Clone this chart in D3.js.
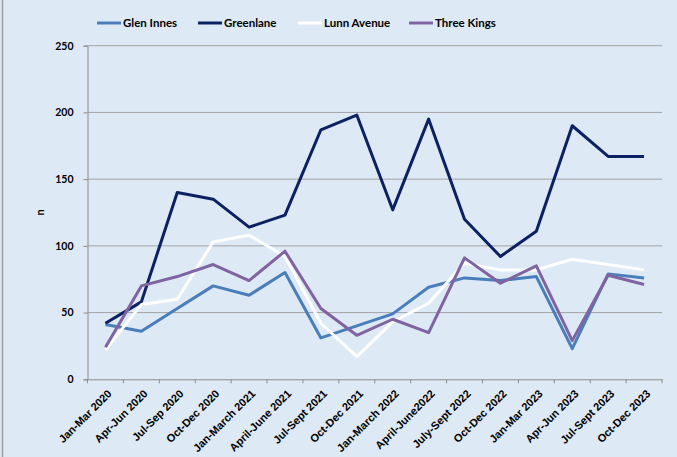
<!DOCTYPE html>
<html>
<head>
<meta charset="utf-8">
<script src="https://cdn.jsdelivr.net/npm/d3@7"></script>
<style>
    body { margin: 0; background: #dde9f5; }
    svg { display: block; font-family: Lato, "Open Sans", sans-serif; font-weight: bold; }
</style>
</head>
<body>
<div id="chart"></div>
<script>
// Chart data
const quarters = [
    "Jan-Mar 2020", "Apr-Jun 2020", "Jul-Sep 2020", "Oct-Dec 2020",
    "Jan-March 2021", "April-June 2021", "Jul-Sept 2021", "Oct-Dec 2021",
    "Jan-March 2022", "April-June2022", "July-Sept 2022", "Oct-Dec 2022",
    "Jan-Mar 2023", "Apr-Jun 2023", "Jul-Sept 2023", "Oct-Dec 2023"
];
const glenInnes  = [41, 36, 53, 70, 63, 80, 31, 40, 49, 69, 76, 74, 77, 23, 79, 76];
const greenlane  = [42, 58, 140, 135, 114, 123, 187, 198, 127, 195, 120, 92, 111, 190, 167, 167];
const lunnAvenue = [22, 56, 60, 103, 108, 92, 42, 17, 43, 57, 87, 82, 82, 90, 86, 82];
const threeKings = [24, 70, 77, 86, 74, 96, 53, 33, 45, 35, 91, 72, 85, 29, 78, 71];
const yTicks = [0, 50, 100, 150, 200, 250];

const series = [
    { name: "Glen Innes", values: glenInnes, color: "#4a7ebb" },
    { name: "Greenlane", values: greenlane, color: "#0c2161" },
    { name: "Lunn Avenue", values: lunnAvenue, color: "#ffffff" },
    { name: "Three Kings", values: threeKings, color: "#8064a2" }
];

const width = 677, height = 457;
const margin = { left: 87.5, right: 15, top: 45.7, bottom: 77.7 };

const svg = d3.select("#chart").append("svg")
    .attr("width", width)
    .attr("height", height);

svg.append("rect")
    .attr("width", width).attr("height", height)
    .attr("fill", "#dde9f5");

// left frame edge
svg.append("line")
    .attr("x1", 2.5).attr("x2", 2.5).attr("y1", 0).attr("y2", height)
    .attr("stroke", "#a0a0a0").attr("stroke-width", 1.5);

// Scales
const x = d3.scaleBand()
    .domain(quarters)
    .range([margin.left, width - margin.right]);
const y = d3.scaleLinear()
    .domain([0, 250])
    .range([height - margin.bottom, margin.top]);

// Gridlines
svg.append("g")
    .selectAll("line")
    .data(yTicks.filter(d => d > 0))
    .enter().append("line")
        .attr("x1", margin.left)
        .attr("x2", width - margin.right)
        .attr("y1", d => y(d))
        .attr("y2", d => y(d))
        .attr("stroke", "#a3a3a3")
        .attr("stroke-width", 1);

// Y axis
const yAxis = svg.append("g")
    .attr("transform", `translate(${margin.left},0)`)
    .call(d3.axisLeft(y).tickValues(yTicks).tickSize(4).tickPadding(10));
yAxis.select(".domain").attr("stroke", "#8c8c8c");
yAxis.selectAll(".tick line").attr("stroke", "#8c8c8c");
yAxis.selectAll("text")
    .attr("fill", "#000")
    .style("font-size", "10.5px")
    .style("font-weight", "bold")
    .style("font-family", "Lato, sans-serif");

// X axis
const xAxis = svg.append("g")
    .attr("transform", `translate(0,${height - margin.bottom})`)
    .call(d3.axisBottom(x).tickSize(0).tickFormat(""));
xAxis.select(".domain").attr("stroke", "#8c8c8c");

// category boundary ticks
const bounds = quarters.map(q => x(q)).concat([x.range()[1]]);
xAxis.selectAll(".bound")
    .data(bounds)
    .enter().append("line")
        .attr("x1", d => d).attr("x2", d => d)
        .attr("y1", 0).attr("y2", 4)
        .attr("stroke", "#8c8c8c");

// rotated labels
xAxis.selectAll(".lbl")
    .data(quarters)
    .enter().append("text")
        .attr("text-anchor", "end")
        .attr("transform", d => `translate(${x(d) + x.bandwidth() / 2 + 7},${15}) rotate(-45)`)
        .attr("fill", "#000")
        .style("font-size", "11px")
        .text(d => d);

// Y axis title
svg.append("text")
    .attr("transform", `translate(44,${y(125)}) rotate(-90)`)
    .attr("text-anchor", "middle")
    .style("font-size", "11px")
    .text("n");

// Lines
const line = d3.line()
    .x((d, i) => x(quarters[i]) + x.bandwidth() / 2)
    .y(d => y(d));

svg.append("g")
    .selectAll("path")
    .data(series)
    .enter().append("path")
        .attr("d", s => line(s.values))
        .attr("fill", "none")
        .attr("stroke", s => s.color)
        .attr("stroke-width", 3)
        .attr("stroke-linejoin", "round");

// Legend
const legendX = [97, 198, 298, 409];
const legend = svg.append("g")
    .selectAll("g")
    .data(series)
    .enter().append("g")
        .attr("transform", (s, i) => `translate(${legendX[i]},23)`);
legend.append("line")
    .attr("x1", 0).attr("x2", 24)
    .attr("stroke", s => s.color)
    .attr("stroke-width", 3);
legend.append("text")
    .attr("x", 26)
    .attr("dy", "0.35em")
    .style("font-size", "11.5px")
    .text(s => s.name);
</script>
</body>
</html>
